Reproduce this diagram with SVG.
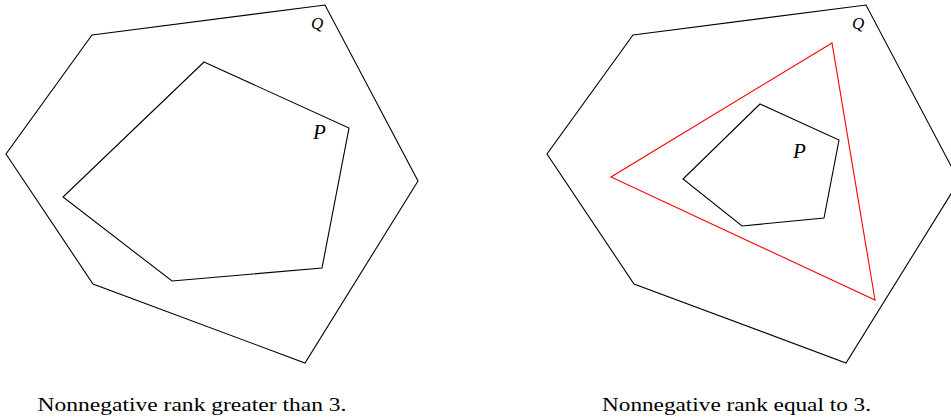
<svg xmlns="http://www.w3.org/2000/svg" width="951" height="417" viewBox="0 0 951 417">
<style>
.poly{fill:none;stroke:#000;stroke-width:1.1;stroke-linejoin:miter}
.red{fill:none;stroke:#ff0000;stroke-width:1.1}
.lab{font-family:"Liberation Serif","DejaVu Serif",serif;font-style:italic;fill:#000}
.cap{font-family:"Liberation Serif","DejaVu Serif",serif;font-size:19px;fill:#000}
</style>
<rect width="951" height="417" fill="#fff"/>
<g id="left">
<g id="Q1"><polygon class="poly" points="92,35 325,5 418,181 305,363 93,284 6,154"/><text class="lab" x="311" y="29" font-size="17">Q</text></g>
<g id="P1"><polygon class="poly" points="204,62 349,128 322,268 172,281 63,197"/><text class="lab" x="313" y="139" font-size="21">P</text></g>
<text class="cap" x="37.5" y="411" textLength="309" lengthAdjust="spacingAndGlyphs">Nonnegative rank greater than 3.</text>
</g>
<g id="right">
<g id="Q2"><polygon class="poly" points="633,35 866,5 959,181 846,363 634,284 547,154"/><text class="lab" x="852" y="29" font-size="17">Q</text></g>
<g id="T2"><polygon class="red" points="832,43 611,177 875,300"/></g>
<g id="P2"><polygon class="poly" points="760,104 839,140 824,218 742,226 683,179"/><text class="lab" x="793" y="158" font-size="21">P</text></g>
<text class="cap" x="602" y="411" textLength="269" lengthAdjust="spacingAndGlyphs">Nonnegative rank equal to 3.</text>
</g>
</svg>
